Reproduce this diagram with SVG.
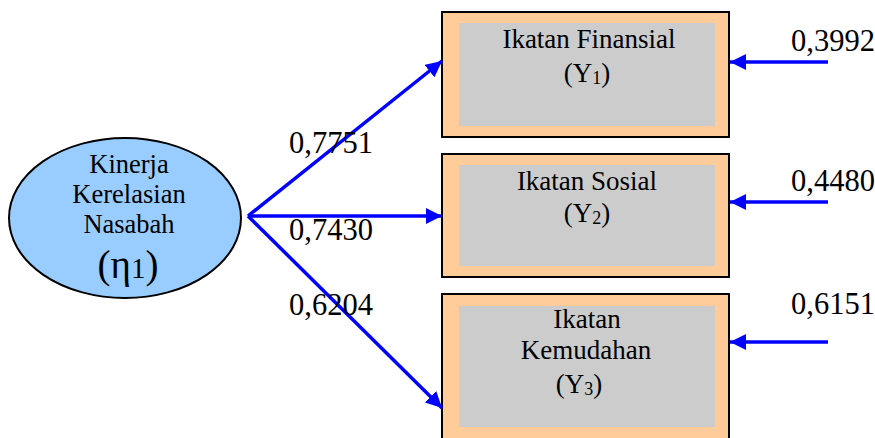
<svg xmlns="http://www.w3.org/2000/svg" width="875" height="438" viewBox="0 0 875 438">
<style>
text{font-family:"Liberation Serif","Times New Roman",serif;fill:#000}
.lbl{font-size:30.5px}
.bt{font-size:27px;text-anchor:middle}
.et{font-size:26.5px;text-anchor:middle}
.outer{fill:#FFCC99;stroke:#000;stroke-width:2}
.inner{fill:#CCCCCC}
.arr{stroke:#0000FF;stroke-width:3.5;fill:none;marker-end:url(#ah)}
</style>
<defs>
<marker id="ah" viewBox="0 0 10 10" refX="10" refY="5" markerWidth="4.6" markerHeight="4.6" orient="auto" markerUnits="strokeWidth">
<path d="M0,0 L10,5 L0,10 z" fill="#0000FF"/>
</marker>
</defs>
<rect width="875" height="438" fill="#fff"/>
<g id="eta">
<ellipse cx="125" cy="218" rx="116" ry="80" fill="#99CCFF" stroke="#000" stroke-width="2"/>
<text class="et" x="129" y="173">Kinerja</text>
<text class="et" x="129" y="203">Kerelasian</text>
<text class="et" x="129" y="233">Nasabah</text>
<text x="128" y="278" text-anchor="middle" style="font-size:39px">(η<tspan style="font-size:29px">1</tspan>)</text>
</g>
<g id="y1">
<rect class="outer" x="442" y="12" width="287" height="125"/>
<rect class="inner" x="459" y="23" width="256" height="103"/>
<text class="bt" x="589" y="48">Ikatan Finansial</text>
<text class="bt" x="587" y="82">(Y<tspan style="font-size:18px" dy="2">1</tspan><tspan dy="-2">)</tspan></text>
</g>
<g id="y2">
<rect class="outer" x="442" y="154" width="287" height="123"/>
<rect class="inner" x="459" y="165" width="256" height="101"/>
<text class="bt" x="587" y="190">Ikatan Sosial</text>
<text class="bt" x="587" y="222">(Y<tspan style="font-size:18px" dy="2">2</tspan><tspan dy="-2">)</tspan></text>
</g>
<g id="y3">
<rect class="outer" x="442" y="294" width="287" height="150"/>
<rect class="inner" x="459" y="306" width="256" height="121"/>
<text class="bt" x="587" y="328">Ikatan</text>
<text class="bt" x="586" y="359">Kemudahan</text>
<text class="bt" x="579" y="393">(Y<tspan style="font-size:18px" dy="2">3</tspan><tspan dy="-2">)</tspan></text>
</g>
<g id="connectors">
<line class="arr" x1="248" y1="216" x2="442" y2="61"/>
<line class="arr" x1="248" y1="216" x2="442" y2="216"/>
<line class="arr" x1="248" y1="216" x2="442" y2="408"/>
<line class="arr" x1="828" y1="62" x2="730" y2="62"/>
<line class="arr" x1="828" y1="202" x2="730" y2="202"/>
<line class="arr" x1="828" y1="342" x2="730" y2="342"/>
</g>
<g id="labels">
<text class="lbl" x="289" y="153">0,7751</text>
<text class="lbl" x="289" y="240">0,7430</text>
<text class="lbl" x="289" y="315">0,6204</text>
<text class="lbl" x="791" y="51">0,3992</text>
<text class="lbl" x="791" y="191">0,4480</text>
<text class="lbl" x="791" y="314">0,6151</text>
</g>
</svg>
